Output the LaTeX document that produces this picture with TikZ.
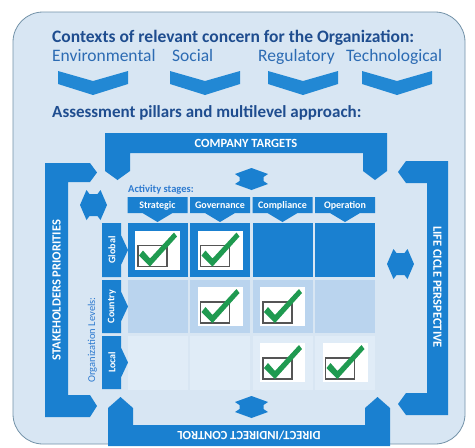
\documentclass[tikz,border=0pt]{standalone}
\usepackage{fontspec}
\setmainfont{Carlito}
\definecolor{barblue}{HTML}{1A80D0}
\definecolor{chevblue}{HTML}{2288D4}
\definecolor{panel}{HTML}{D8E6F3}
\definecolor{panelline}{HTML}{7392A8}
\definecolor{titleblue}{HTML}{1F4D8F}
\definecolor{wordblue}{HTML}{2C6BB3}
\definecolor{labblue}{HTML}{2E7BD0}
\definecolor{midcell}{HTML}{BAD4EE}
\definecolor{lowcell}{HTML}{E0ECF7}
\definecolor{checkgreen}{HTML}{1F9A50}
\definecolor{sqgray}{HTML}{555555}
\begin{document}
\begin{tikzpicture}[x=1pt,y=-1pt,
  bar/.style={fill=barblue},
  title/.style={anchor=base west,inner sep=0pt,text=titleblue,font=\fontsize{17.5}{20}\selectfont\bfseries},
  word/.style={anchor=base west,inner sep=0pt,text=wordblue,font=\fontsize{17.5}{20}\selectfont},
  barlabel/.style={inner sep=0pt,text=white,font=\fontsize{12.5}{14}\selectfont\bfseries},
  cellhead/.style={inner sep=0pt,text=white,font=\fontsize{10}{12}\selectfont\bfseries},
  smalllab/.style={inner sep=0pt,text=labblue,font=\fontsize{10.5}{12}\selectfont},
  hdarr/.pic={\fill[barblue] (-13.5,0) -- (-7,-15) -- (-4,-11) -- (4,-11) -- (7,-15) -- (13.5,0) -- (7,15) -- (4,11) -- (-4,11) -- (-7,15) -- cycle;},
  vdarr/.pic={\fill[barblue] (0,-11) -- (16.5,-5) -- (12,-2) -- (12,2) -- (16.5,5) -- (0,11) -- (-16.5,5) -- (-12,2) -- (-12,-2) -- (-16.5,-5) -- cycle;},
  chk/.pic={\fill[white] (-22.5,-19.5) rectangle (22.5,19.5);
            \draw[sqgray,line width=1.2pt] (-19.5,-4.5) rectangle (9.5,16.5);
            \fill[checkgreen] (-18.5,5.5) -- (-14.5,0.5) -- (-7.5,8.5) -- (16.5,-17.5) -- (19.5,-13.5) -- (-7.5,16.5) -- cycle;}
]
\useasboundingbox (0,0) rectangle (475,448);
\fill[white] (0,0) rectangle (475,448);
% panel
\draw[panelline,line width=0.8pt,fill=panel,rounded corners=30pt] (13,12) rectangle (465,444);

% headings
\node[title] (ctx) at (52,42.5) {Contexts of relevant concern for the Organization:};
\node[word] (env) at (52,61.5) {Environmental};
\node[word] (soc) at (172,61.5) {Social};
\node[word] (reg) at (258,61.5) {Regulatory};
\node[word] (tec) at (346,61.5) {Technological};
\foreach \c in {93,205,303,397}
  \fill[chevblue] (\c-35,71) -- (\c,81) -- (\c+35,71) -- (\c+35,84) -- (\c,95) -- (\c-35,84) -- cycle;
\node[title,font=\fontsize{17}{20}\selectfont\bfseries] (pil) at (52,117.5) {Assessment pillars and multilevel approach:};

% brackets
\fill[bar] (105,133) -- (387,133) -- (387,171) -- (375,180) -- (363,171) -- (363,153) -- (130,153) -- (130,171) -- (117.5,180) -- (105,171) -- cycle;
\fill[bar] (45,163) -- (90,163) -- (97,172.5) -- (90,182) -- (68,182) -- (68,395) -- (90,395) -- (97,406) -- (90,417) -- (45,417) -- cycle;
\fill[bar] (448,161) -- (406,161) -- (398,172) -- (406,183) -- (427,183) -- (427,393) -- (406,393) -- (398,404) -- (406,415) -- (448,415) -- cycle;
\fill[bar] (108,446) -- (390,446) -- (390,408) -- (377.5,397) -- (365,408) -- (365,425) -- (133,425) -- (133,408) -- (120.5,397) -- (108,408) -- cycle;
\node[barlabel] (ct) at (246,143) {COMPANY TARGETS};
\node[barlabel,rotate=180] (dc) at (249,436) {DIRECT/INDIRECT CONTROL};
\node[barlabel,rotate=90] (sp) at (56.5,290) {STAKEHOLDERS PRIORITIES};
\node[barlabel,rotate=-90] (lc) at (437.5,287) {LIFE CICLE PERSPECTIVE};

% double arrows
\pic at (93.5,205) {hdarr};
\pic at (400.5,264) {hdarr};
\pic at (251.5,179) {vdarr};
\pic at (251.5,407) {vdarr};

% grid labels
\node[smalllab,anchor=base west,font=\fontsize{10.5}{12}\selectfont\bfseries] (act) at (128,192.5) {Activity stages:};
\node[smalllab,rotate=90] (org) at (92.5,340) {Organization Levels:};

% grid cells
\foreach \x in {127.5,190,252.5,315}{
  \fill[barblue] (\x,223) rectangle (\x+60,277);
  \fill[midcell] (\x,279.5) rectangle (\x+60,333);
  \fill[lowcell] (\x,335.5) rectangle (\x+60,390);
}
% column headers
\foreach \x/\t/\n in {127.5/Strategic/hs,190/Governance/hg,252.5/Compliance/hc,315/Operation/ho}{
  \fill[barblue] (\x,197) -- (\x+60,197) -- (\x+60,213) -- (\x+45,213) -- (\x+30,222) -- (\x+15,213) -- (\x,213) -- cycle;
  \node[cellhead] (\n) at (\x+30,205.5) {\t};
}
% row headers
\foreach \ya/\yb/\ym/\t/\n in {223/277/250/Global/rg,280/333/306.5/Country/rc,336/389/362.5/Local/rl}{
  \fill[barblue] (102,\ya) -- (121,\ya) -- (121,\ym-15) -- (128,\ym) -- (121,\ym+15) -- (121,\yb) -- (102,\yb) -- cycle;
  \node[cellhead,rotate=90] (\n) at (112,\ym) {\t};
}
% checks
\foreach \p in {(157.5,250),(220,250),(220,306.5),(282.5,306.5),(282.5,362.5),(345,362.5)}
  \pic at \p {chk};
\end{tikzpicture}
\end{document}
